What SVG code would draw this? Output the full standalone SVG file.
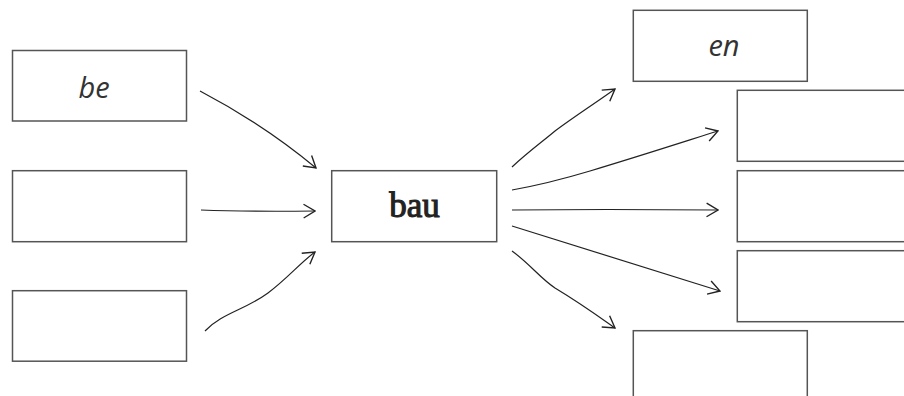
<svg xmlns="http://www.w3.org/2000/svg" width="904" height="396" viewBox="0 0 904 396">
<style>
.box{fill:#fff;stroke:#555;stroke-width:1.5}
.con{fill:none;stroke:#222;stroke-width:1.2}
.hand{font-family:"Open Sans","DejaVu Sans",sans-serif;font-style:italic;font-weight:400;font-size:29px;fill:#333;text-anchor:middle}
.ser{font-family:"Liberation Serif","Times New Roman",serif;font-size:35px;fill:#222;stroke:#222;stroke-width:1.1;text-anchor:middle}
</style>
<defs>
<marker id="ah" markerUnits="userSpaceOnUse" markerWidth="14" markerHeight="16" viewBox="0 0 12 14" refX="11" refY="7" orient="auto">
<path d="M1,1 L11,7 L1,13" fill="none" stroke="#222" stroke-width="1.2"/>
</marker>
</defs>
<rect width="904" height="396" fill="#fff"/>
<g id="n-be"><rect class="box" x="12.5" y="50.5" width="174" height="70.5"/><text class="hand" x="94" y="97.5">be</text></g>
<g id="n-left2"><rect class="box" x="12.5" y="170.7" width="174" height="71"/></g>
<g id="n-left3"><rect class="box" x="12.5" y="290.7" width="174" height="70.5"/></g>
<g id="n-bau"><rect class="box" x="331.7" y="170.7" width="165" height="71"/><text class="ser" x="414.5" y="216.5">bau</text></g>
<g id="n-en"><rect class="box" x="633.3" y="10.3" width="174" height="71"/><text class="hand" x="724" y="56">en</text></g>
<g id="n-right2"><rect class="box" x="737.3" y="90.3" width="180" height="71"/></g>
<g id="n-right3"><rect class="box" x="737.3" y="170.7" width="180" height="71"/></g>
<g id="n-right4"><rect class="box" x="737.3" y="250.7" width="180" height="71"/></g>
<g id="n-right5"><rect class="box" x="633.3" y="330.7" width="174" height="80"/></g>
<g id="connectors">
<path class="con" marker-end="url(#ah)" d="M200,91 C240,112 280,138 316,168"/>
<path class="con" marker-end="url(#ah)" d="M201,210 C240,211.5 270,211.5 315,211"/>
<path class="con" marker-end="url(#ah)" d="M205,331 C222,313 245,310 268,293 C288,278 300,263 315,252"/>
<path class="con" marker-end="url(#ah)" d="M512,167 C528,152 542,142 555,131 C575,116 597,102 615,89"/>
<path class="con" marker-end="url(#ah)" d="M512,190 C540,185 560,180 590,171 C640,156 680,143 718,131"/>
<path class="con" marker-end="url(#ah)" d="M512,210 C600,209 660,209.5 718,210"/>
<path class="con" marker-end="url(#ah)" d="M512,226 L720,291"/>
<path class="con" marker-end="url(#ah)" d="M512,251 C530,264 540,278 555,288 C580,303 598,316 615,328"/>
</g>
</svg>
